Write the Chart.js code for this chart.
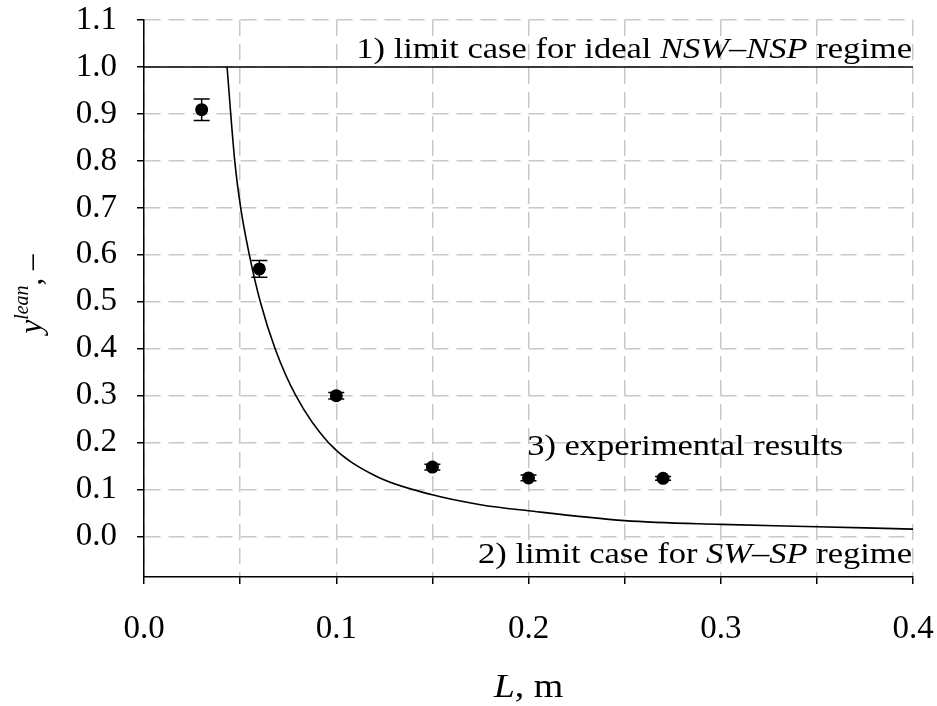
<!DOCTYPE html>
<html>
<head>
<meta charset="utf-8">
<script src="https://cdn.jsdelivr.net/npm/chart.js@4.4.0/dist/chart.umd.min.js"></script>
<style>
  html, body { margin: 0; padding: 0; background: #fff; }
</style>
</head>
<body>
<canvas id="myChart" width="937" height="706"></canvas>
<script>
// y_lean versus L: limit cases and experiments

const ctx = document.getElementById('myChart');

// experimental results (with error bars)
const expL = [0.03, 0.06, 0.10, 0.15, 0.20, 0.27];
const expY = [0.909, 0.570, 0.300, 0.148, 0.125, 0.124];
const expErr = [0.023, 0.018, 0.007, 0.006, 0.006, 0.004];

// model curve
const curveL = [0.0432, 0.0472, 0.0503, 0.0548, 0.0605, 0.0682, 0.079, 0.096, 0.12, 0.15, 0.175, 0.2, 0.25, 0.3, 0.35, 0.4];
const curveY = [1.0, 0.80, 0.70, 0.60, 0.50, 0.40, 0.30, 0.20, 0.13, 0.089, 0.068, 0.055, 0.034, 0.026, 0.021, 0.016];

// limit case 1) y = 1
const limitL = [0, 0.4];
const limitY = [1, 1];

// axes
const xTickValues = [0, 0.05, 0.1, 0.15, 0.2, 0.25, 0.3, 0.35, 0.4];
const yTickValues = [0, 0.1, 0.2, 0.3, 0.4, 0.5, 0.6, 0.7, 0.8, 0.9, 1.0, 1.1];

const SERIF = '"Liberation Serif", "Times New Roman", serif';

function toPoints(xs, ys) {
    return xs.map((x, i) => ({x: x, y: ys[i]}));
}

// text made of pieces, some italic, some raised; sx stretches it sideways
function drawRich(c, parts, x, y, align, sx) {
    sx = sx || 1;
    let total = 0;
    parts.forEach(p => {
        c.font = (p.italic ? 'italic ' : '') + p.size + 'px ' + SERIF;
        p.w = c.measureText(p.t).width;
        total += p.w;
    });
    let start = x;
    if (align === 'right') start = x - total * sx;
    if (align === 'center') start = x - total * sx / 2;
    c.save();
    c.translate(start, y);
    c.scale(sx, 1);
    c.textAlign = 'left';
    c.textBaseline = 'alphabetic';
    c.fillStyle = '#000';
    let cx = 0;
    parts.forEach(p => {
        c.font = (p.italic ? 'italic ' : '') + p.size + 'px ' + SERIF;
        c.fillText(p.t, cx, p.dy || 0);
        cx += p.w;
    });
    c.restore();
}

const errorBars = {
    id: 'errorBars',
    afterDatasetsDraw(chart) {
        const c = chart.ctx;
        const xs = chart.scales.x, ys = chart.scales.y;
        c.save();
        c.strokeStyle = '#000';
        c.lineWidth = 1.5;
        expL.forEach((l, i) => {
            const px = xs.getPixelForValue(l);
            const top = ys.getPixelForValue(expY[i] + expErr[i]);
            const bot = ys.getPixelForValue(expY[i] - expErr[i]);
            c.beginPath();
            c.moveTo(px, top); c.lineTo(px, bot);
            c.moveTo(px - 8, top); c.lineTo(px + 8, top);
            c.moveTo(px - 8, bot); c.lineTo(px + 8, bot);
            c.stroke();
        });
        c.restore();
    }
};

const labels = {
    id: 'labels',
    afterDraw(chart) {
        const c = chart.ctx;
        const xs = chart.scales.x, ys = chart.scales.y;
        const fs = 30, st = 1.15;
        drawRich(c, [
            {t: '1) limit case for ideal ', size: fs},
            {t: 'NSW\u2013NSP', size: fs, italic: true},
            {t: ' regime', size: fs}
        ], xs.getPixelForValue(0.4) - 1, ys.getPixelForValue(1.0) - 9, 'right', st);
        drawRich(c, [
            {t: '2) limit case for ', size: fs},
            {t: 'SW\u2013SP', size: fs, italic: true},
            {t: ' regime', size: fs}
        ], xs.getPixelForValue(0.4) - 1, ys.getPixelForValue(0) + 26, 'right', st);
        drawRich(c, [
            {t: '3) experimental results', size: fs}
        ], xs.getPixelForValue(0.1993), ys.getPixelForValue(0.174), 'left', st);

        // axis titles
        drawRich(c, [
            {t: 'L', size: 33, italic: true},
            {t: ', m', size: 33}
        ], (chart.chartArea.left + chart.chartArea.right) / 2, 697, 'center', st);

        c.save();
        c.translate(41, 294);
        c.rotate(-Math.PI / 2);
        drawRich(c, [
            {t: 'y', size: 31, italic: true},
            {t: 'lean', size: 20, italic: true, dy: -13},
            {t: ', \u2013', size: 31}
        ], 0, 0, 'center');
        c.restore();
    }
};

// keep the label overhang out of the layout, the padding below sets the plot box
function noOverhang(s) {
    s.paddingTop = 0;
    s.paddingBottom = 0;
    s.paddingLeft = 0;
    s.paddingRight = 0;
}

const gridCommon = {
    color: '#c8c8c8',
    lineWidth: 1.5,
    tickColor: '#000',
    tickLength: 7,
    tickWidth: 1.5
};

const chart = new Chart(ctx, {
    type: 'scatter',
    data: {
        datasets: [{
            label: 'limit case 1',
            data: toPoints(limitL, limitY),
            showLine: true,
            borderColor: '#000',
            borderWidth: 1.6,
            pointRadius: 0
        }, {
            label: 'limit curve',
            data: toPoints(curveL, curveY),
            showLine: true,
            borderColor: '#000',
            borderWidth: 1.6,
            pointRadius: 0,
            cubicInterpolationMode: 'monotone'
        }, {
            label: 'experimental results',
            data: toPoints(expL, expY),
            showLine: false,
            pointRadius: 6.5,
            pointBackgroundColor: '#000',
            pointBorderColor: '#000',
            pointBorderWidth: 0
        }]
    },
    options: {
        responsive: false,
        animation: false,
        layout: { padding: {top: 20, right: 24, left: 0, bottom: 0} },
        plugins: {
            legend: { display: false },
            tooltip: { enabled: false }
        },
        scales: {
            x: {
                type: 'linear',
                min: 0,
                max: 0.4,
                afterBuildTicks: s => { s.ticks = xTickValues.map(v => ({value: v})); },
                afterFit: s => { s.height = 129; noOverhang(s); },
                grid: gridCommon,
                border: { display: true, color: '#000', width: 1.5, dash: [16, 8] },
                ticks: {
                    autoSkip: false,
                    maxRotation: 0,
                    padding: 26,
                    color: '#000',
                    font: { family: SERIF, size: 33 },
                    callback: v => {
                        const k = Math.round(v * 10);
                        return Math.abs(v * 10 - k) < 1e-6 ? (k / 10).toFixed(1) : '';
                    }
                }
            },
            y: {
                type: 'linear',
                min: -0.086,
                max: 1.1,
                afterBuildTicks: s => { s.ticks = yTickValues.map(v => ({value: v})); },
                afterFit: s => { s.width = 144; noOverhang(s); },
                grid: gridCommon,
                border: { display: true, color: '#000', width: 1.5, dash: [16, 8] },
                ticks: {
                    padding: 20,
                    color: '#000',
                    font: { family: SERIF, size: 33 },
                    callback: v => v.toFixed(1)
                }
            }
        }
    },
    plugins: [errorBars, labels]
});
</script>
</body>
</html>
